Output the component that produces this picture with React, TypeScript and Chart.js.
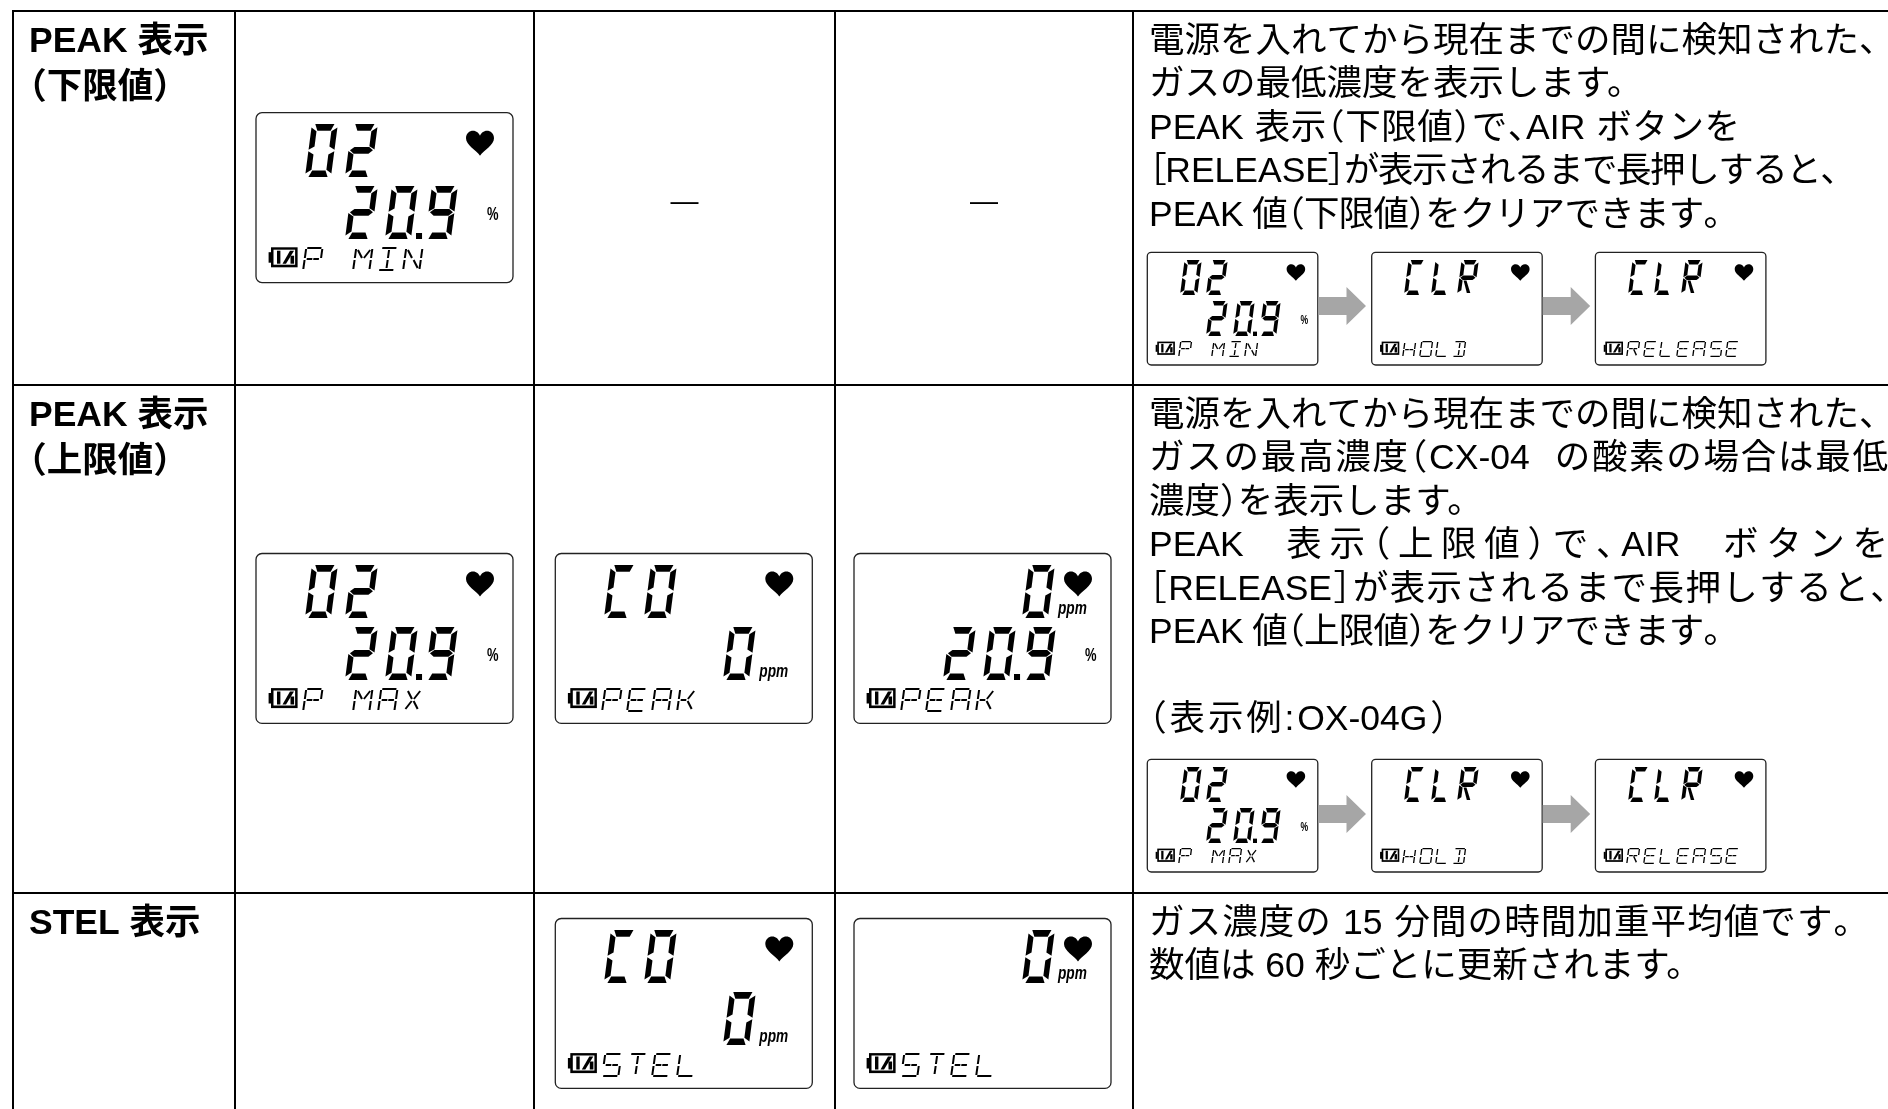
import React, { useEffect, useRef } from "react";
import { Chart, registerables } from "chart.js";

Chart.register(...registerables);

// ---------- content ----------
const rowLabels = [
  ["PEAK 表示", "（下限値）"],
  ["PEAK 表示", "（上限値）"],
  ["STEL 表示"],
];
const row1Text = [
  "電源を入れてから現在までの間に検知された、",
  "ガスの最低濃度を表示します。",
  "PEAK 表示（下限値）で、AIR ボタンを",
  "［RELEASE］が表示されるまで長押しすると、",
  "PEAK 値（下限値）をクリアできます。",
];
const row2Text = [
  "電源を入れてから現在までの間に検知された、",
  "ガスの最高濃度（CX-04  の酸素の場合は最低",
  "濃度）を表示します。",
  "PEAK  表示（上限値）で、AIR  ボタンを",
  "［RELEASE］が表示されるまで長押しすると、",
  "PEAK 値（上限値）をクリアできます。",
  "",
  "（表示例:OX-04G）",
];
const row3Text = [
  "ガス濃度の 15 分間の時間加重平均値です。",
  "数値は 60 秒ごとに更新されます。",
];
const notApplicable = "—";

type Screen = { top: string; topRight?: boolean; low?: string; topUnit?: string; lowUnit?: string; status: string };
const pMin: Screen = { top: "02", low: "20.9", lowUnit: "%", status: "P MIN" };
const pMax: Screen = { top: "02", low: "20.9", lowUnit: "%", status: "P MAX" };
const coPeak: Screen = { top: "CO", low: "0", lowUnit: "ppm", status: "PEAK" };
const o2Peak: Screen = { top: "0", topRight: true, topUnit: "ppm", low: "20.9", lowUnit: "%", status: "PEAK" };
const coStel: Screen = { top: "CO", low: "0", lowUnit: "ppm", status: "STEL" };
const o2Stel: Screen = { top: "0", topRight: true, topUnit: "ppm", status: "STEL" };
const clrHold: Screen = { top: "CLR", status: "HOLD" };
const clrRelease: Screen = { top: "CLR", status: "RELEASE" };

// ---------- layout ----------
const W = 1888;
const H = 1109;
const colX = [13, 235, 534, 835, 1133];
const rowY = [11, 385, 893];
const LINE = 43.4;
const LABEL_LINE = 46;
const FS = 35.5;
const TEXT_X = 1149;
const TEXT_FONT = '"Liberation Sans", "Noto Sans CJK JP"';
const row1Widths: (number | undefined)[] = [undefined, undefined, 591, 689, 590];
const row2Widths: (number | undefined)[] = [undefined, 739, undefined, 739, 739, 590, undefined, 299];
const row3Widths: (number | undefined)[] = [720, undefined];
const LARGE_W = 257;
const SMALL_W = 170.5;
const largeScreens: [Screen, number, number][] = [
  [pMin, 256, 112.7],
  [pMax, 256, 553.5],
  [coPeak, 555.3, 553.5],
  [o2Peak, 854, 553.5],
  [coStel, 555.3, 918.5],
  [o2Stel, 854, 918.5],
];
const smallScreens: [Screen, number, number][] = [
  [pMin, 1147.3, 252.3],
  [clrHold, 1371.7, 252.3],
  [clrRelease, 1595.4, 252.3],
  [pMax, 1147.3, 759.3],
  [clrHold, 1371.7, 759.3],
  [clrRelease, 1595.4, 759.3],
];
const arrows: [number, number][] = [
  [1318.5, 306],
  [1542.7, 306],
  [1318.5, 814],
  [1542.7, 814],
];

// ---------- LCD fonts, built at run time so the read-outs stay real text ----------
type Pt = [number, number];
type Glyph = { ch: string; adv: number; contours: Pt[][] };

function buildFont(family: string, glyphs: Glyph[]): ArrayBuffer {
  const u16 = (a: number[], v: number) => a.push((v >> 8) & 255, v & 255);
  const u32 = (a: number[], v: number) => a.push((v >>> 24) & 255, (v >> 16) & 255, (v >> 8) & 255, v & 255);
  const all: Glyph[] = [{ ch: "", adv: 500, contours: [] }, ...glyphs.slice().sort((p, q) => p.ch.charCodeAt(0) - q.ch.charCodeAt(0))];
  const glyf: number[] = [];
  const locaOff: number[] = [];
  const lsb: number[] = [];
  let maxPts = 0, maxCont = 0, fx0 = 0, fy0 = 0, fx1 = 0, fy1 = 0;
  for (const g of all) {
    locaOff.push(glyf.length);
    if (!g.contours.length) { lsb.push(0); continue; }
    const pts = g.contours.flat().map(([x, y]) => [Math.round(x), Math.round(y)]);
    const xs = pts.map((p) => p[0]);
    const ys = pts.map((p) => p[1]);
    const x0 = Math.min(...xs), x1 = Math.max(...xs), y0 = Math.min(...ys), y1 = Math.max(...ys);
    fx0 = Math.min(fx0, x0); fy0 = Math.min(fy0, y0); fx1 = Math.max(fx1, x1); fy1 = Math.max(fy1, y1);
    lsb.push(x0);
    maxPts = Math.max(maxPts, pts.length);
    maxCont = Math.max(maxCont, g.contours.length);
    u16(glyf, g.contours.length);
    [x0, y0, x1, y1].forEach((v) => u16(glyf, v));
    let end = -1;
    for (const c of g.contours) { end += c.length; u16(glyf, end); }
    u16(glyf, 0);
    pts.forEach(() => glyf.push(1));
    let px = 0;
    for (const p of pts) { u16(glyf, p[0] - px); px = p[0]; }
    let py = 0;
    for (const p of pts) { u16(glyf, p[1] - py); py = p[1]; }
    while (glyf.length % 4) glyf.push(0);
  }
  locaOff.push(glyf.length);
  const loca: number[] = [];
  locaOff.forEach((v) => u32(loca, v));
  const head: number[] = [];
  u32(head, 0x00010000); u32(head, 0x00010000); u32(head, 0); u32(head, 0x5f0f3cf5);
  u16(head, 3); u16(head, 1000);
  for (let i = 0; i < 4; i++) u32(head, 0);
  [fx0, fy0, fx1, fy1].forEach((v) => u16(head, v));
  u16(head, 0); u16(head, 8); u16(head, 2); u16(head, 1); u16(head, 0);
  const maxAdv = Math.max(...all.map((g) => g.adv));
  const hhea: number[] = [];
  u32(hhea, 0x00010000); u16(hhea, 1000); u16(hhea, -200); u16(hhea, 0); u16(hhea, maxAdv);
  u16(hhea, fx0); u16(hhea, 0); u16(hhea, fx1); u16(hhea, 1); u16(hhea, 0); u16(hhea, 0);
  for (let i = 0; i < 5; i++) u16(hhea, 0);
  u16(hhea, all.length);
  const maxp: number[] = [];
  u32(maxp, 0x00010000); u16(maxp, all.length); u16(maxp, maxPts); u16(maxp, maxCont);
  u16(maxp, 0); u16(maxp, 0); u16(maxp, 2);
  for (let i = 0; i < 8; i++) u16(maxp, 0);
  const hmtx: number[] = [];
  all.forEach((g, i) => { u16(hmtx, g.adv); u16(hmtx, lsb[i]); });
  const codes = all.slice(1).map((g) => g.ch.charCodeAt(0));
  const cmapSeg = codes.length + 1;
  const cm: number[] = [];
  const log = Math.floor(Math.log2(cmapSeg));
  u16(cm, 4); u16(cm, 16 + cmapSeg * 8); u16(cm, 0); u16(cm, cmapSeg * 2);
  u16(cm, 2 << log); u16(cm, log); u16(cm, cmapSeg * 2 - (2 << log));
  codes.forEach((c) => u16(cm, c)); u16(cm, 0xffff); u16(cm, 0);
  codes.forEach((c) => u16(cm, c)); u16(cm, 0xffff);
  codes.forEach((c, i) => u16(cm, (i + 1 - c) & 0xffff)); u16(cm, 1);
  for (let i = 0; i < cmapSeg; i++) u16(cm, 0);
  const cmap: number[] = [];
  u16(cmap, 0); u16(cmap, 1); u16(cmap, 3); u16(cmap, 1); u32(cmap, 12);
  cmap.push(...cm);
  const names: [number, string][] = [[1, family], [2, "Regular"], [3, family + "-1"], [4, family], [5, "Version 1.0"], [6, family]];
  const nameHead: number[] = [];
  const nameData: number[] = [];
  u16(nameHead, 0); u16(nameHead, names.length); u16(nameHead, 6 + names.length * 12);
  for (const [id, s] of names) {
    u16(nameHead, 3); u16(nameHead, 1); u16(nameHead, 0x409); u16(nameHead, id);
    u16(nameHead, s.length * 2); u16(nameHead, nameData.length);
    for (const ch of s) u16(nameData, ch.charCodeAt(0));
  }
  const name = [...nameHead, ...nameData];
  const post: number[] = [];
  u32(post, 0x00030000);
  for (let i = 0; i < 7; i++) u32(post, 0);
  const os2: number[] = [];
  u16(os2, 1); u16(os2, 600); u16(os2, 400); u16(os2, 5); u16(os2, 0);
  for (let i = 0; i < 11; i++) u16(os2, 100);
  for (let i = 0; i < 10; i++) os2.push(0);
  u32(os2, 1); u32(os2, 0); u32(os2, 0); u32(os2, 0);
  os2.push(32, 32, 32, 32);
  u16(os2, 0x40); u16(os2, Math.min(...codes)); u16(os2, Math.max(...codes));
  u16(os2, 1000); u16(os2, -200); u16(os2, 0); u16(os2, 1000); u16(os2, 200);
  u32(os2, 1); u32(os2, 0);
  const tables: [string, number[]][] = [
    ["OS/2", os2], ["cmap", cmap], ["glyf", glyf], ["head", head], ["hhea", hhea],
    ["hmtx", hmtx], ["loca", loca], ["maxp", maxp], ["name", name], ["post", post],
  ];
  const out: number[] = [];
  const n = tables.length;
  const lg = Math.floor(Math.log2(n));
  u32(out, 0x00010000); u16(out, n); u16(out, 16 << lg); u16(out, lg); u16(out, n * 16 - (16 << lg));
  let off = 12 + n * 16;
  for (const [tag, d] of tables) {
    for (const ch of tag) out.push(ch.charCodeAt(0));
    let sum = 0;
    for (let i = 0; i < d.length; i += 4) {
      sum = (sum + (((d[i] || 0) << 24) | ((d[i + 1] || 0) << 16) | ((d[i + 2] || 0) << 8) | (d[i + 3] || 0))) >>> 0;
    }
    u32(out, sum); u32(out, off); u32(out, d.length);
    off += (d.length + 3) & ~3;
  }
  for (const [, d] of tables) {
    out.push(...d);
    while (out.length % 4) out.push(0);
  }
  return new Uint8Array(out).buffer;
}

function sevenSegFont(): ArrayBuffer {
  const w = 490, h = 1000, t = 105, g = 14, c = 50, m = 500, sk = 0.13;
  const th = 125;
  const seg: Record<string, Pt[]> = {
    a: [[c + g, h], [w - c - g, h], [w - t - g, h - th], [t + g, h - th]],
    d: [[t + g, th], [w - t - g, th], [w - c - g, 0], [c + g, 0]],
    f: [[0, h - c - g], [t, h - th - g], [t, m + th / 2 + g], [0, m + g]],
    e: [[0, m - g], [t, m - th / 2 - g], [t, th + g], [0, c + g]],
    b: [[w, h - c - g], [w, m + g], [w - t, m + th / 2 + g], [w - t, h - th - g]],
    c: [[w, m - g], [w, c + g], [w - t, th + g], [w - t, m - th / 2 - g]],
    g: [[2 * g, m], [t, m + th / 2], [w - t, m + th / 2], [w - 2 * g, m], [w - t, m - th / 2], [t, m - th / 2]],
    r: [[t + 2 * g, m - th / 2 - g], [t + 110, m - th / 2 - g], [w - t - g, 60], [w - t - g - 100, 60]],
  };
  const map: Record<string, string> = { "0": "abcdef", "2": "abged", "9": "abcdfg", C: "afed", L: "fed", O: "abcdef", R: "afbger" };
  const sh = (p: Pt[]) => p.map(([x, y]) => [x + y * sk, y] as Pt);
  const glyphs: Glyph[] = Object.entries(map).map(([ch, s]) => ({ ch, adv: 750, contours: s.split("").map((k) => sh(seg[k])) }));
  glyphs.push({ ch: " ", adv: 750, contours: [] });
  glyphs.push({ ch: ".", adv: 0, contours: [[[-180, 0], [-180, 110], [-66, 110], [-66, 0]]] });
  return buildFont("LCDDigits", glyphs);
}

function starburstFont(): ArrayBuffer {
  const w = 760, h = 1000, t = 85, g = 40, m = 500, sk = 0.14;
  const bar = (x1: number, y1: number, x2: number, y2: number): Pt[] => {
    const dx = x2 - x1, dy = y2 - y1, l = Math.hypot(dx, dy);
    const nx = (-dy / l) * (t / 2), ny = (dx / l) * (t / 2);
    return [[x1 + nx, y1 + ny], [x2 + nx, y2 + ny], [x2 - nx, y2 - ny], [x1 - nx, y1 - ny]];
  };
  const cx = w / 2;
  const seg: Record<string, Pt[]> = {
    a: bar(t, h - t / 2, w - t, h - t / 2),
    d: bar(t, t / 2, w - t, t / 2),
    f: bar(t / 2, h - t, t / 2, m + g),
    e: bar(t / 2, m - g, t / 2, t),
    b: bar(w - t / 2, h - t, w - t / 2, m + g),
    c: bar(w - t / 2, m - g, w - t / 2, t),
    p: bar(t + g, m, cx - g / 2, m),
    q: bar(cx + g / 2, m, w - t - g, m),
    i: bar(cx, h - t - g, cx, m + g),
    l: bar(cx, m - g, cx, t + g),
    h: bar(t + g, h - t - g, cx - g, m + g),
    j: bar(w - t - g, h - t - g, cx + g, m + g),
    k: bar(cx - g, m - g, t + g, t + g),
    n: bar(cx + g, m - g, w - t - g, t + g),
  };
  const map: Record<string, string> = {
    A: "afbecpq", D: "abcdil", E: "afedpq", H: "febcpq", I: "adil", K: "fepjn", L: "fed",
    M: "febchj", N: "febchn", O: "abcdef", P: "afebpq", R: "afbpqen", S: "afpqcd", T: "ail", X: "hjkn",
  };
  const sh = (p: Pt[]) => p.map(([x, y]) => [x + y * sk, y] as Pt);
  const glyphs: Glyph[] = Object.entries(map).map(([ch, s]) => ({ ch, adv: 1040, contours: s.split("").map((k) => sh(seg[k])) }));
  glyphs.push({ ch: " ", adv: 1040, contours: [] });
  return buildFont("LCDStatus", glyphs);
}

// ---------- drawing helpers ----------
const COMPRESS_OPEN = "（［";
const COMPRESS_CLOSE = "）］、";

function drawLine(ctx: CanvasRenderingContext2D, text: string, x: number, y: number, fontSize: number, weight: string, target?: number) {
  const half = fontSize / 2;
  ctx.font = `${weight} ${fontSize}px ${TEXT_FONT}`;
  ctx.textAlign = "left";
  ctx.textBaseline = "alphabetic";
  // a justified line is spread between words and CJK characters only
  const tokens = text.match(/[A-Za-z0-9\-]+|./gu) || [];
  const runs: string[] = [];
  for (const tk of tokens) {
    const special = COMPRESS_OPEN.includes(tk) || COMPRESS_CLOSE.includes(tk);
    const last = runs[runs.length - 1];
    const lastSpecial = last !== undefined && (COMPRESS_OPEN.includes(last) || COMPRESS_CLOSE.includes(last));
    if (!target && !special && last !== undefined && !lastSpecial) runs[runs.length - 1] = last + tk;
    else runs.push(tk);
  }
  const widthOf = (r: string) => (COMPRESS_OPEN.includes(r) || COMPRESS_CLOSE.includes(r) ? half : ctx.measureText(r).width);
  const natural = runs.reduce((a, r) => a + widthOf(r), 0);
  const extra = target ? (target - natural) / Math.max(1, runs.length - 1) : 0;
  let cx = x;
  for (const r of runs) {
    ctx.fillText(r, COMPRESS_OPEN.includes(r) ? cx - half : cx, y);
    cx += widthOf(r) + extra;
  }
}

function drawHeart(ctx: CanvasRenderingContext2D, cx: number, cy: number) {
  ctx.beginPath();
  ctx.moveTo(cx, cy + 12.5);
  ctx.bezierCurveTo(cx - 4, cy + 6.5, cx - 14, cy + 2, cx - 14, cy - 5);
  ctx.bezierCurveTo(cx - 14, cy - 10, cx - 10.5, cy - 12.5, cx - 7, cy - 12.5);
  ctx.bezierCurveTo(cx - 3.5, cy - 12.5, cx - 1, cy - 10, cx, cy - 7.5);
  ctx.bezierCurveTo(cx + 1, cy - 10, cx + 3.5, cy - 12.5, cx + 7, cy - 12.5);
  ctx.bezierCurveTo(cx + 10.5, cy - 12.5, cx + 14, cy - 10, cx + 14, cy - 5);
  ctx.bezierCurveTo(cx + 14, cy + 2, cx + 4, cy + 6.5, cx, cy + 12.5);
  ctx.closePath();
  ctx.fill();
}

function drawBattery(ctx: CanvasRenderingContext2D) {
  ctx.fillStyle = "#000";
  ctx.fillRect(12.6, 139.5, 3, 10.5);
  ctx.fillRect(15, 134.6, 26.6, 20);
  ctx.fillStyle = "#fff";
  ctx.fillRect(17.5, 137, 21.6, 15);
  ctx.fillStyle = "#000";
  ctx.fillRect(21, 138, 3.4, 13);
  ctx.beginPath();
  ctx.moveTo(26.5, 151);
  ctx.lineTo(34, 138);
  ctx.lineTo(38, 138);
  ctx.lineTo(30, 151);
  ctx.closePath();
  ctx.fill();
  ctx.fillRect(34.5, 143, 3.6, 8);
}

function drawScreen(ctx: CanvasRenderingContext2D, sc: Screen, px: number, py: number, pw: number) {
  const s = pw / LARGE_W;
  ctx.save();
  ctx.translate(px, py);
  ctx.scale(s, s);
  ctx.beginPath();
  (ctx as any).roundRect(0, 0, LARGE_W, LARGE_W * 0.661, 6);
  ctx.fillStyle = "#fff";
  ctx.fill();
  ctx.strokeStyle = "#222";
  ctx.lineWidth = 1.3 / s;
  ctx.stroke();
  ctx.fillStyle = "#000";
  ctx.textAlign = "left";
  ctx.textBaseline = "alphabetic";
  const digits = (t: string) => t.replace(".", "").length;
  ctx.font = '53px "LCDDigits"';
  const topX = sc.topRight ? 168 : 49;
  ctx.fillText(sc.top, topX, 64.5);
  if (sc.low) ctx.fillText(sc.low, 168 - (digits(sc.low) - 1) * 39.75, 126);
  drawHeart(ctx, 224, 30.5);
  const unit = (t: string, x: number, y: number) => {
    ctx.save();
    ctx.translate(x, y);
    ctx.scale(0.72, 1);
    ctx.font = t === "%" ? 'bold 18px "Liberation Sans"' : 'italic bold 19px "Liberation Sans"';
    ctx.fillText(t, 0, 0);
    ctx.restore();
  };
  if (sc.topUnit) unit(sc.topUnit, 204, 60.5);
  if (sc.lowUnit) sc.lowUnit === "%" ? unit("%", 231, 107.5) : unit(sc.lowUnit, 204, 123);
  ctx.font = '24px "LCDStatus"';
  ctx.fillText(sc.status, 46, 158.5);
  drawBattery(ctx);
  ctx.restore();
}

function drawArrow(ctx: CanvasRenderingContext2D, x: number, cy: number) {
  ctx.fillStyle = "#a6a6a6";
  ctx.beginPath();
  ctx.moveTo(x, cy - 9);
  ctx.lineTo(x + 28, cy - 9);
  ctx.lineTo(x + 28, cy - 19);
  ctx.lineTo(x + 47.5, cy);
  ctx.lineTo(x + 28, cy + 19);
  ctx.lineTo(x + 28, cy + 9);
  ctx.lineTo(x, cy + 9);
  ctx.closePath();
  ctx.fill();
}

const tablePlugin = {
  id: "tableContent",
  afterDatasetsDraw(chart: any) {
    const ctx: CanvasRenderingContext2D = chart.ctx;
    const X = (v: number) => chart.scales.x.getPixelForValue(v);
    const Y = (v: number) => chart.scales.y.getPixelForValue(v);
    ctx.save();
    ctx.fillStyle = "#000";
    rowLabels.forEach((lines, r) => {
      lines.forEach((t, i) => drawLine(ctx, t, X(29), Y(rowY[r] + 41 + i * LABEL_LINE), FS, "bold"));
    });
    row1Text.forEach((t, i) => drawLine(ctx, t, X(TEXT_X), Y(rowY[0] + 41 + i * LINE), FS, "normal", row1Widths[i]));
    row2Text.forEach((t, i) => {
      if (t) drawLine(ctx, t, X(TEXT_X), Y(rowY[1] + 41 + i * LINE), FS, "normal", row2Widths[i]);
    });
    row3Text.forEach((t, i) => drawLine(ctx, t, X(TEXT_X), Y(rowY[2] + 41 + i * LINE), FS, "normal", row3Widths[i]));
    ctx.font = `28px "Liberation Sans"`;
    ctx.textAlign = "center";
    ctx.fillText(notApplicable, X(684.5), Y(210));
    ctx.fillText(notApplicable, X(984), Y(210));
    largeScreens.forEach(([sc, x, y]) => drawScreen(ctx, sc, X(x), Y(y), LARGE_W));
    smallScreens.forEach(([sc, x, y]) => drawScreen(ctx, sc, X(x), Y(y), SMALL_W));
    arrows.forEach(([x, y]) => drawArrow(ctx, X(x), Y(y)));
    ctx.restore();
  },
};

export default function App() {
  const ref = useRef<HTMLCanvasElement | null>(null);
  useEffect(() => {
    let chart: Chart | null = null;
    let dead = false;
    const make = () => {
      if (dead || !ref.current) return;
      const rule = (points: { x: number; y: number }[]) => ({
        data: points,
        showLine: true,
        borderColor: "#000",
        borderWidth: 2,
        pointRadius: 0,
      });
      chart = new Chart(ref.current, {
        type: "scatter",
        data: {
          datasets: [
            ...colX.map((x) => rule([{ x, y: rowY[0] - 1 }, { x, y: H }])),
            ...rowY.map((y) => rule([{ x: colX[0] - 1, y }, { x: W, y }])),
          ],
        } as any,
        options: {
          animation: false,
          responsive: false,
          layout: { padding: 0 },
          plugins: { legend: { display: false }, tooltip: { enabled: false }, title: { display: false } },
          scales: {
            x: { type: "linear", min: 0, max: W, display: false },
            y: { type: "linear", min: 0, max: H, reverse: true, display: false },
          },
        },
        plugins: [tablePlugin],
      } as any);
    };
    const faces = [new FontFace("LCDDigits", sevenSegFont()), new FontFace("LCDStatus", starburstFont())];
    Promise.all(faces.map((f) => f.load()))
      .then((loaded) => { loaded.forEach((f) => (document.fonts as any).add(f)); })
      .catch((e) => console.error("LCD font failed", e))
      .finally(make);
    return () => {
      dead = true;
      if (chart) chart.destroy();
    };
  }, []);
  return <canvas ref={ref} width={W} height={H} style={{ position: "fixed", left: 0, top: 0, display: "block", background: "#fff" }} />;
}
